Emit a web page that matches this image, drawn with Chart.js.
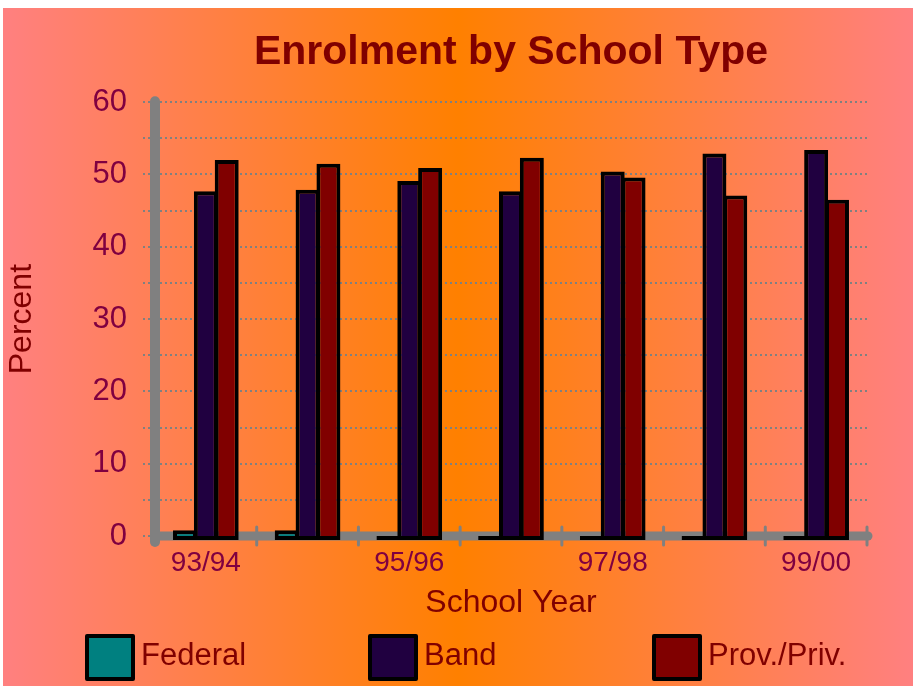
<!DOCTYPE html>
<html>
<head>
<meta charset="utf-8">
<script src="https://cdn.jsdelivr.net/npm/chart.js@4/dist/chart.umd.min.js"></script>
<style>
  html, body { margin: 0; padding: 0; background: #fff; }
  #wrap {
    position: relative; width: 913px; height: 686px; overflow: hidden;
  }
  #bg {
    position: absolute; left: 3px; top: 8px; right: 0; bottom: 0;
    background: linear-gradient(to right, #ff8080 0%, #ff8040 25%, #ff8000 50%, #ff8040 75%, #ff8080 100%);
  }
  #chart { position: absolute; left: 0; top: 0; }
  .leg { position: absolute; top: 634px; height: 47px; }
  .leg .box {
    position: absolute; left: 0; top: 0; width: 50px; height: 47px;
    box-sizing: border-box; border: 4px solid #000; border-radius: 2px;
  }
  .leg .txt {
    position: absolute; left: 56px; top: 1px; white-space: nowrap;
    font: 31px "Liberation Sans", Arial, sans-serif; color: #800000; line-height: 40px;
  }
</style>
</head>
<body>
<div id="wrap">
  <div id="bg"></div>
  <canvas id="chart" width="913" height="686"></canvas>
  <div id="legend"></div>
</div>
<script>
// school years on the x axis, only every other one gets a label
const years = ['93/94', '94/95', '95/96', '96/97', '97/98', '98/99', '99/00'];

// share of enrolment, percent
const federal = [0.8, 0.8, 0, 0, 0, 0, 0];
const band = [47.7, 47.9, 49.1, 47.7, 50.4, 52.9, 53.4];
const provPriv = [52.0, 51.5, 50.9, 52.3, 49.6, 47.1, 46.5];

const seriesNames = ['Federal', 'Band', 'Prov./Priv.'];
const seriesColors = ['#008080', '#200040', '#800000'];

const yTicks = [0, 10, 20, 30, 40, 50, 60];

const FONT = '"Liberation Sans", Arial, sans-serif';
const GREY = '#808080';

// thick grey axes with crossing tick marks, drawn under the bars
const axisLines = {
    id: 'axisLines',
    beforeDatasetsDraw(chart) {
        const { ctx, chartArea: a, scales: { x } } = chart;
        ctx.save();
        ctx.strokeStyle = GREY;
        ctx.lineCap = 'round';

        ctx.lineWidth = 10;
        ctx.beginPath();
        ctx.moveTo(a.left, a.top - 1);
        ctx.lineTo(a.left, a.bottom + 6);
        ctx.stroke();

        ctx.lineWidth = 9;
        ctx.beginPath();
        ctx.moveTo(a.left, a.bottom);
        ctx.lineTo(a.right + 1, a.bottom);
        ctx.stroke();

        ctx.lineWidth = 3;
        for (let i = 1; i <= years.length; i++) {
            const px = x.getPixelForValue(i - 0.5);
            ctx.beginPath();
            ctx.moveTo(px, a.bottom - 9);
            ctx.lineTo(px, a.bottom + 9);
            ctx.stroke();
        }
        ctx.restore();
    }
};

const values = [federal, band, provPriv];
const datasets = seriesNames.map((name, i) => ({
    label: name,
    data: values[i],
    backgroundColor: seriesColors[i],
    borderColor: '#000',
    borderWidth: 4,
    borderSkipped: false,
    base: -0.55,
    clip: false,
    categoryPercentage: 0.615,
    barPercentage: 1.15
}));

new Chart(document.getElementById('chart').getContext('2d'), {
    type: 'bar',
    data: { labels: years, datasets: datasets },
    options: {
        responsive: false,
        animation: false,
        devicePixelRatio: 1,
        layout: { padding: { top: 8, left: 3, right: 46, bottom: 60 } },
        plugins: {
            legend: { display: false },
            tooltip: { enabled: false },
            title: {
                display: true,
                text: 'Enrolment by School Type',
                color: '#800000',
                fullSize: false,
                font: { family: FONT, size: 41, weight: 'bold' },
                padding: { top: 20, bottom: 25 }
            }
        },
        scales: {
            x: {
                grid: { display: false, drawTicks: false },
                border: { display: false },
                ticks: {
                    autoSkip: false,
                    maxRotation: 0,
                    padding: 10,
                    color: '#800040',
                    font: { family: FONT, size: 28 },
                    callback: (v, i) => (i % 2 === 0 ? years[i] : '')
                },
                title: {
                    display: true,
                    text: 'School Year',
                    color: '#800000',
                    font: { family: FONT, size: 32 },
                    padding: { top: 0, bottom: 4 }
                },
                afterFit: s => { s.height = 90; }
            },
            y: {
                min: 0,
                max: 60,
                grid: {
                    color: GREY,
                    lineWidth: 2,
                    tickLength: 12,
                    tickColor: GREY,
                    tickWidth: 2,
                    tickBorderDash: [2, 3]
                },
                border: { display: false, dash: [2, 3] },
                ticks: {
                    stepSize: 5,
                    autoSkip: false,
                    padding: 16,
                    color: '#800040',
                    font: { family: FONT, size: 31 },
                    callback: v => (yTicks.includes(v) ? v : '')
                },
                title: {
                    display: true,
                    text: 'Percent',
                    color: '#800000',
                    font: { family: FONT, size: 32 },
                    padding: 0
                },
                afterFit: s => { s.width = 152; }
            }
        }
    },
    plugins: [axisLines]
});

// legend row under the chart
const legendLeft = [85, 368, 652];
const legend = document.getElementById('legend');
seriesNames.forEach((name, i) => {
    const item = document.createElement('div');
    item.className = 'leg';
    item.style.left = legendLeft[i] + 'px';
    item.innerHTML = '<div class="box" style="background:' + seriesColors[i] + '"></div>' +
        '<div class="txt">' + name + '</div>';
    legend.appendChild(item);
});
</script>
</body>
</html>
